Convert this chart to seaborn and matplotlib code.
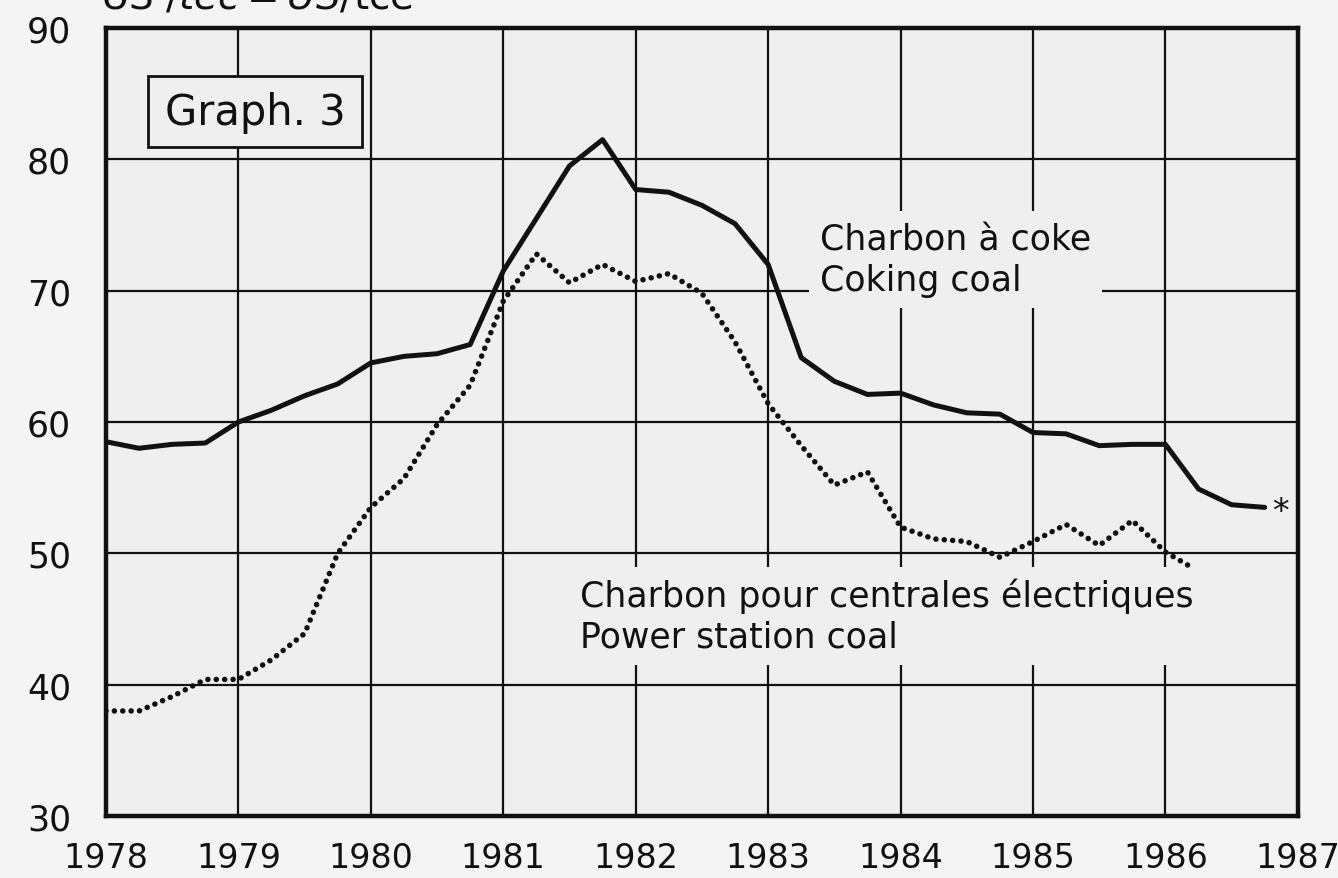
import numpy as np
import pandas as pd
import matplotlib
matplotlib.use("Agg")
import matplotlib.pyplot as plt
import seaborn as sns
from matplotlib.patches import Rectangle
from matplotlib.ticker import MultipleLocator

# quarterly prices, US $/tce
coking_dates = [1978.0, 1978.25, 1978.5, 1978.75, 1979.0, 1979.25, 1979.5, 1979.75,
                1980.0, 1980.25, 1980.5, 1980.75, 1981.0, 1981.25, 1981.5, 1981.75,
                1982.0, 1982.25, 1982.5, 1982.75, 1983.0, 1983.25, 1983.5, 1983.75,
                1984.0, 1984.25, 1984.5, 1984.75, 1985.0, 1985.25, 1985.5, 1985.75,
                1986.0, 1986.25, 1986.5, 1986.75]
coking_coal = [58.5, 58.0, 58.3, 58.4, 60.0, 60.9, 62.0, 62.9,
               64.5, 65.0, 65.2, 65.9, 71.5, 75.5, 79.5, 81.5,
               77.7, 77.5, 76.5, 75.1, 72.0, 64.9, 63.1, 62.1,
               62.2, 61.3, 60.7, 60.6, 59.2, 59.1, 58.2, 58.3,
               58.3, 54.9, 53.7, 53.5]

power_dates = [1978.0, 1978.25, 1978.5, 1978.75, 1979.0, 1979.25, 1979.5, 1979.75,
               1980.0, 1980.25, 1980.5, 1980.75, 1981.0, 1981.25, 1981.5, 1981.75,
               1982.0, 1982.25, 1982.5, 1982.75, 1983.0, 1983.25, 1983.5, 1983.75,
               1984.0, 1984.25, 1984.5, 1984.75, 1985.0, 1985.25, 1985.5, 1985.75,
               1986.0, 1986.17]
power_coal = [38.0, 38.0, 39.1, 40.4, 40.4, 41.9, 43.9, 50.0,
              53.5, 55.7, 59.8, 62.8, 69.2, 72.8, 70.6, 72.0,
              70.7, 71.3, 69.8, 66.1, 61.4, 58.2, 55.2, 56.2,
              52.0, 51.1, 50.9, 49.7, 50.9, 52.2, 50.6, 52.5,
              50.1, 49.1]

year_ticks = [1978, 1979, 1980, 1981, 1982, 1983, 1984, 1985, 1986, 1987]
price_ticks = [30, 40, 50, 60, 70, 80, 90]

coking_df = pd.DataFrame({"year": coking_dates, "price": coking_coal})
power_df = pd.DataFrame({"year": power_dates, "price": power_coal})

sns.set_style("white")
plt.rcParams["font.family"] = ["DejaVu Sans"]

ink = "#111111"
bg = "#efefef"
fig = plt.figure(figsize=(13.38, 8.79), dpi=100, facecolor="#f4f4f4")
ax = fig.add_axes([0.0792, 0.0705, 0.8908, 0.8965])
ax.set_facecolor(bg)

sns.lineplot(data=coking_df, x="year", y="price", ax=ax, color=ink,
             linewidth=3.6, solid_joinstyle="round", zorder=4)
sns.lineplot(data=power_df, x="year", y="price", ax=ax, color=ink,
             linewidth=4.0, linestyle=(0, (0.01, 1.5)), dash_capstyle="round", zorder=4)

ax.set_xlim(1978, 1987)
ax.set_ylim(30, 90)
ax.set_xticks(year_ticks)
ax.set_yticks(price_ticks)
ax.xaxis.set_minor_locator(MultipleLocator(0.25))
ax.set_xlabel("")
ax.set_ylabel("")
ax.grid(True, which="major", color=ink, linewidth=1.6, zorder=1)
ax.set_axisbelow(True)
for s in ax.spines.values():
    s.set_linewidth(3.2)
    s.set_color(ink)

ax.tick_params(axis="y", which="major", direction="out", length=15, width=1.8,
               colors=ink, pad=10, labelsize=25)
ax.tick_params(axis="x", which="major", direction="out", length=11, width=1.8,
               colors=ink, pad=7, labelsize=24)
ax.tick_params(axis="x", which="minor", direction="out", length=6, width=1.5,
               colors=ink)

label_kw = dict(fontsize=25, color=ink, zorder=3, linespacing=1.25,
                bbox=dict(facecolor=bg, edgecolor="none", pad=8))
ax.text(1983.39, 72.37, "Charbon à coke\nCoking coal", ha="left", va="center",
        **label_kw)
ax.text(1981.58, 45.25, "Charbon pour centrales électriques\nPower station coal",
        ha="left", va="center", **label_kw)
ax.text(1986.87, 53.2, "*", fontsize=24, ha="center", va="center", color=ink)

# "Graph. 3" box
ax.add_patch(Rectangle((1978.317, 80.94), 1.616, 5.41, facecolor=bg,
                       edgecolor=ink, linewidth=2.0, zorder=5))
ax.text(1979.125, 83.64, "Graph. 3", fontsize=30, ha="center", va="center",
        color=ink, zorder=6)

fig.text(0.075, 1 - 8 / 879, "US $/tec = US $/tce", fontsize=28,
         ha="left", va="baseline", color=ink)

fig.savefig("out.png", dpi=100, facecolor=fig.get_facecolor())
